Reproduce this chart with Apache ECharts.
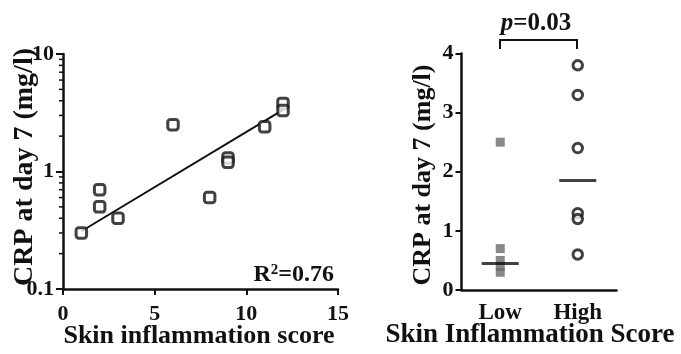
<!DOCTYPE html>
<html>
<head>
<meta charset="utf-8">
<script src="https://cdn.jsdelivr.net/npm/echarts@6/dist/echarts.min.js"></script>
<style>
  html, body { margin: 0; padding: 0; background: #fff; }
  #chart { width: 681px; height: 354px; }
</style>
</head>
<body>
<div id="chart"></div>
<script>
// left panel: score vs CRP (log scale)
const scores = [1, 2, 2, 3, 6, 8, 9, 9, 11, 12, 12];
const crpByScore = [0.3, 0.7, 0.5, 0.4, 2.5, 0.6, 1.3, 1.2, 2.4, 3.8, 3.3];
const fitX = [1, 12];
const fitY = [0.31, 3.35];
const xTicks = [0, 5, 10, 15];
const logTicks = [0.1, 1, 10];

// right panel: groups
const groups = ["Low", "High"];
const lowValues = [2.5, 0.7, 0.5, 0.4, 0.3];
const highValues = [3.8, 3.3, 2.4, 1.3, 1.2, 0.6];
const medians = [0.45, 1.85];
const rightTicks = [0, 1, 2, 3, 4];

const FONT = "'Liberation Serif', 'Times New Roman', serif";
const INK = "#111";

// minor ticks for the log axis (2..9 per decade)
const minorTicks = [];
for (let d = 0.1; d < 10; d *= 10) {
  for (let k = 2; k <= 9; k++) minorTicks.push(+(d * k).toFixed(2));
}

const chart = echarts.init(document.getElementById("chart"));

const axisLabel = {
  color: INK,
  fontFamily: FONT,
  fontWeight: "bold",
  fontSize: 22,
};

const option = {
  animation: false,
  grid: [
    { left: 63, top: 54, width: 275, height: 235 },
    { left: 461.5, top: 53.5, width: 155, height: 236.5 },
  ],
  xAxis: [
    {
      gridIndex: 0,
      type: "value",
      min: xTicks[0],
      max: xTicks[xTicks.length - 1],
      interval: 5,
      axisLine: { lineStyle: { color: INK, width: 2.5 } },
      axisTick: { length: 6, lineStyle: { color: INK, width: 2 } },
      axisLabel: { ...axisLabel, margin: 14 },
      splitLine: { show: false },
    },
    {
      gridIndex: 1,
      type: "category",
      data: groups,
      boundaryGap: true,
      axisLine: { lineStyle: { color: INK, width: 2.5 } },
      axisTick: { length: 6, alignWithLabel: true, lineStyle: { color: INK, width: 2 } },
      axisLabel: { ...axisLabel, fontSize: 23, margin: 12 },
    },
  ],
  yAxis: [
    {
      gridIndex: 0,
      type: "log",
      logBase: 10,
      min: logTicks[0],
      max: logTicks[logTicks.length - 1],
      axisLine: { show: true, lineStyle: { color: INK, width: 2.5 } },
      axisTick: { show: true, length: 7, lineStyle: { color: INK, width: 2 } },
      axisLabel: {
        ...axisLabel,
        margin: 9,
        formatter: (v) => String(v),
      },
      splitLine: { show: false },
    },
    {
      gridIndex: 1,
      type: "value",
      min: rightTicks[0],
      max: rightTicks[rightTicks.length - 1],
      interval: 1,
      axisLine: { show: true, lineStyle: { color: INK, width: 2.5 } },
      axisTick: { show: true, length: 6, lineStyle: { color: INK, width: 2 } },
      axisLabel: { ...axisLabel, margin: 8 },
      splitLine: { show: false },
    },
  ],
  series: [
    {
      type: "custom",
      xAxisIndex: 0,
      yAxisIndex: 0,
      silent: true,
      data: minorTicks.map((v) => [0, v]),
      renderItem: (params, api) => {
        const p = api.coord([0, api.value(1)]);
        return {
          type: "line",
          shape: { x1: p[0] - 4, y1: p[1], x2: p[0], y2: p[1] },
          style: { stroke: INK, lineWidth: 1.5 },
        };
      },
    },
    {
      type: "line",
      xAxisIndex: 0,
      yAxisIndex: 0,
      data: fitX.map((x, i) => [x, fitY[i]]),
      symbol: "none",
      lineStyle: { color: INK, width: 2 },
      z: 2,
    },
    {
      type: "scatter",
      xAxisIndex: 0,
      yAxisIndex: 0,
      data: scores.map((s, i) => [s, crpByScore[i]]),
      symbol: "roundRect",
      symbolSize: 10.5,
      itemStyle: { color: "#fff", borderColor: INK, borderWidth: 3 },
      z: 3,
    },
    {
      type: "scatter",
      xAxisIndex: 1,
      yAxisIndex: 1,
      data: lowValues.map((v) => [groups[0], v]),
      symbol: "rect",
      symbolSize: 9,
      itemStyle: { color: "#6b6b6b" },
      z: 2,
    },
    {
      type: "scatter",
      xAxisIndex: 1,
      yAxisIndex: 1,
      data: highValues.map((v) => [groups[1], v]),
      symbol: "circle",
      symbolSize: 9.5,
      itemStyle: { color: "#fff", borderColor: INK, borderWidth: 3 },
      z: 2,
    },
    {
      type: "scatter",
      xAxisIndex: 1,
      yAxisIndex: 1,
      data: groups.map((g, i) => [g, medians[i]]),
      symbol: "rect",
      symbolSize: [37, 3],
      itemStyle: { color: INK },
      z: 3,
    },
  ],
  graphic: [
    // axis titles
    {
      type: "text",
      x: 25, y: 167, rotation: Math.PI / 2,
      style: {
        text: "CRP at day 7 (mg/l)", font: `bold 28px ${FONT}`, fill: INK,
        align: "center", verticalAlign: "middle",
      },
    },
    {
      type: "text",
      x: 199, y: 336,
      style: {
        text: "Skin inflammation score", font: `bold 26px ${FONT}`, fill: INK,
        align: "center", verticalAlign: "middle",
      },
    },
    {
      type: "text",
      x: 423, y: 175, rotation: Math.PI / 2,
      style: {
        text: "CRP at day 7 (mg/l)", font: `bold 26px ${FONT}`, fill: INK,
        align: "center", verticalAlign: "middle",
      },
    },
    {
      type: "text",
      x: 530, y: 335,
      style: {
        text: "Skin Inflammation Score", font: `bold 27px ${FONT}`, fill: INK,
        align: "center", verticalAlign: "middle",
      },
    },
    // R squared
    {
      type: "text",
      x: 334, y: 287,
      style: {
        text: "{b|R}{s|2}{b|=0.76}",
        align: "right", verticalAlign: "bottom",
        rich: {
          b: { font: `bold 24px ${FONT}`, fill: INK, verticalAlign: "bottom" },
          s: { font: `bold 15px ${FONT}`, fill: INK, verticalAlign: "top", padding: [0, 0, 9, 0] },
        },
      },
    },
    // significance bracket
    {
      type: "polyline",
      shape: { points: [[500, 49], [500, 40], [577, 40], [577, 49]] },
      style: { stroke: INK, lineWidth: 2, fill: null },
    },
    {
      type: "text",
      x: 536, y: 24,
      style: {
        text: "{i|p}{b|=0.03}",
        align: "center", verticalAlign: "middle",
        rich: {
          i: { font: `italic bold 25px ${FONT}`, fill: INK },
          b: { font: `bold 25px ${FONT}`, fill: INK },
        },
      },
    },
  ],
};

chart.setOption(option);

window.addEventListener("resize", () => chart.resize());
</script>
</body>
</html>
